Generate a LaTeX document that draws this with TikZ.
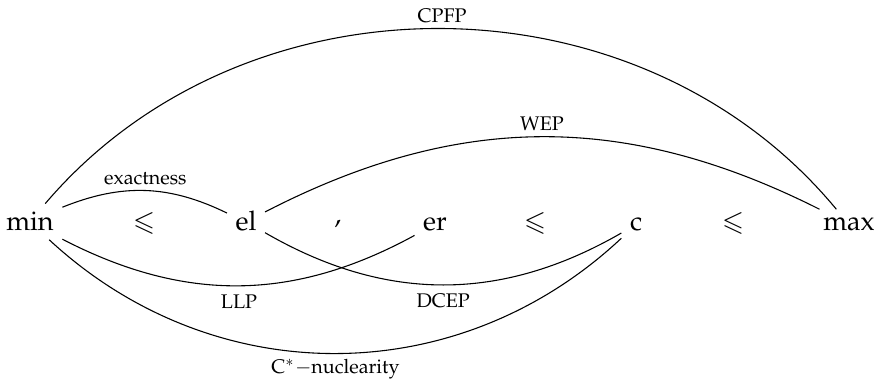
\documentclass[tikz,border=0pt]{standalone}
\usepackage[T1]{fontenc}
\usepackage{mathpazo}
\usepackage{amssymb}
\tikzset{
  obj/.style={anchor=base, inner sep=3pt, font=\fontsize{10}{12}\selectfont},
  lbl/.style={font=\fontsize{7.3}{9}\selectfont, inner sep=2pt}
}
\begin{document}
\begin{tikzpicture}[x=0.37pt, y=-0.37pt]
    \useasboundingbox (0,0) rectangle (878,379);
    % the row
    \node[obj] (min) at (30,231) {min};
    \node[obj] (le1) at (144,231) {$\leqslant$};
    \node[obj] (el) at (246,231) {el};
    \node[obj] (comma) at (338,224) {$,$};
    \node[obj] (er) at (435,231) {er};
    \node[obj] (le2) at (535,231) {$\leqslant$};
    \node[obj] (c) at (636,231) {c};
    \node[obj] (le3) at (733,231) {$\leqslant$};
    \node[obj] (max) at (849,231) {max};

    % above
    \draw[thin] (min) to[bend left=50] node[lbl, above] (cpfp) {CPFP} (max);
    \draw[thin] (min) to[bend left=24] node[lbl, above] (exact) {exactness} (el);
    \draw[thin] (el) to[bend left=27] node[lbl, above] (wep) {WEP} (max);

    % below
    \draw[thin] (min) to[bend right=28] node[lbl, below, inner sep=3pt] (llp) {LLP} (er);
    \draw[thin] (el) to[bend right=30] node[lbl, below, inner sep=3pt] (dcep) {DCEP} (c);
    \draw[thin] (min) to[bend right=43] node[lbl, below] (nuc) {C$^*$$-$nuclearity} (c);
\end{tikzpicture}
\end{document}
